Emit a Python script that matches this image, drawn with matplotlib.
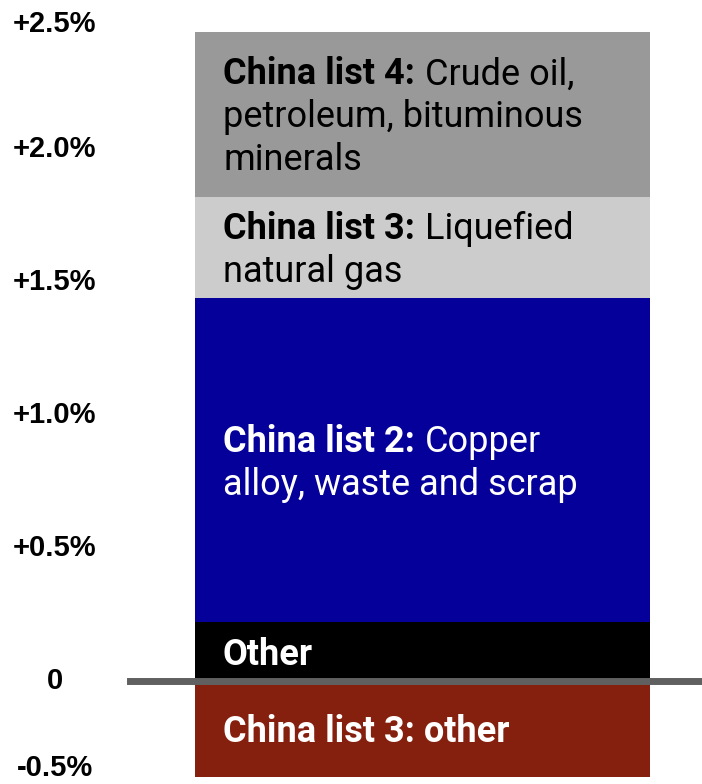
import matplotlib
matplotlib.use("Agg")
import matplotlib.pyplot as plt
from matplotlib.transforms import offset_copy

plt.rcParams['font.family'] = ['Roboto', 'DejaVu Sans']

# contribution by tariff list (percentage points), stacked bottom to top
pos_values = [0.22, 1.22, 0.38, 0.62]
pos_colors = ['#000000', '#040099', '#cccccc', '#999999']
pos_text_colors = ['white', 'white', 'black', 'black']
pos_bold = ['Other', 'China list 2:', 'China list 3:', 'China list 4:']
pos_lines = [
    [''],
    ['Copper', 'alloy, waste and scrap'],
    ['Liquefied', 'natural gas'],
    ['Crude oil,', 'petroleum, bituminous', 'minerals'],
]

neg_value = -0.36
neg_color = '#86200e'
neg_bold = 'China list 3: other'

tick_values = [2.5, 2.0, 1.5, 1.0, 0.5, 0, -0.5]
tick_labels = ['+2.5%', '+2.0%', '+1.5%', '+1.0%', '+0.5%', '0', '-0.5%']

W, H, DPI = 702, 784, 100
fig = plt.figure(figsize=(W / DPI, H / DPI), dpi=DPI)
ax = fig.add_axes([0, 0, 1, 1])
ax.set_xlim(-422.5 / 455, (W - 422.5) / 455)
ax.set_ylim(-103 / 266, 681 / 266)
ax.axis('off')

renderer = fig.canvas.get_renderer()
FS = 26
LINE = 43      # line spacing in pixels
CAP = 13       # half cap height in pixels


def label_block(y_center, bold, lines, color):
    n = len(lines)
    for i, rest in enumerate(lines):
        dy = -(i - (n - 1) / 2) * LINE - CAP
        tr = offset_copy(ax.transData, fig=fig, x=28, y=dy, units='dots')
        if i == 0:
            t = ax.text(-0.5, y_center, bold, transform=tr, fontsize=FS,
                        fontweight='bold', color=color, ha='left', va='baseline')
            if rest:
                w = t.get_window_extent(renderer=renderer).width
                tr2 = offset_copy(ax.transData, fig=fig, x=28 + w + 10, y=dy, units='dots')
                ax.text(-0.5, y_center, rest, transform=tr2, fontsize=FS,
                        color=color, ha='left', va='baseline')
        else:
            ax.text(-0.5, y_center, rest, transform=tr, fontsize=FS,
                    color=color, ha='left', va='baseline')


bottom = 0
for v, c, tc, b, ls in zip(pos_values, pos_colors, pos_text_colors, pos_bold, pos_lines):
    ax.bar(0, v, bottom=bottom, width=1, color=c, linewidth=0)
    label_block(bottom + v / 2, b, ls, tc)
    bottom += v

ax.bar(0, neg_value, bottom=0, width=1, color=neg_color, linewidth=0)
label_block(neg_value / 2, neg_bold, [''], 'white')

ax.axhline(0, xmin=130 / W, xmax=1, color='#606060', linewidth=5, zorder=5)

# y tick labels, kept inside the visible range
ylo, yhi = ax.get_ylim()
for v, s in zip(tick_values, tick_labels):
    y = min(max(v, ylo + 0.06), yhi - 0.09)
    ax.text(55 / W, y, s, transform=ax.get_yaxis_transform(), fontsize=21,
            fontweight='bold', family='Liberation Sans',
            ha='center', va='center', color='black')

fig.savefig('out.png', dpi=DPI)
